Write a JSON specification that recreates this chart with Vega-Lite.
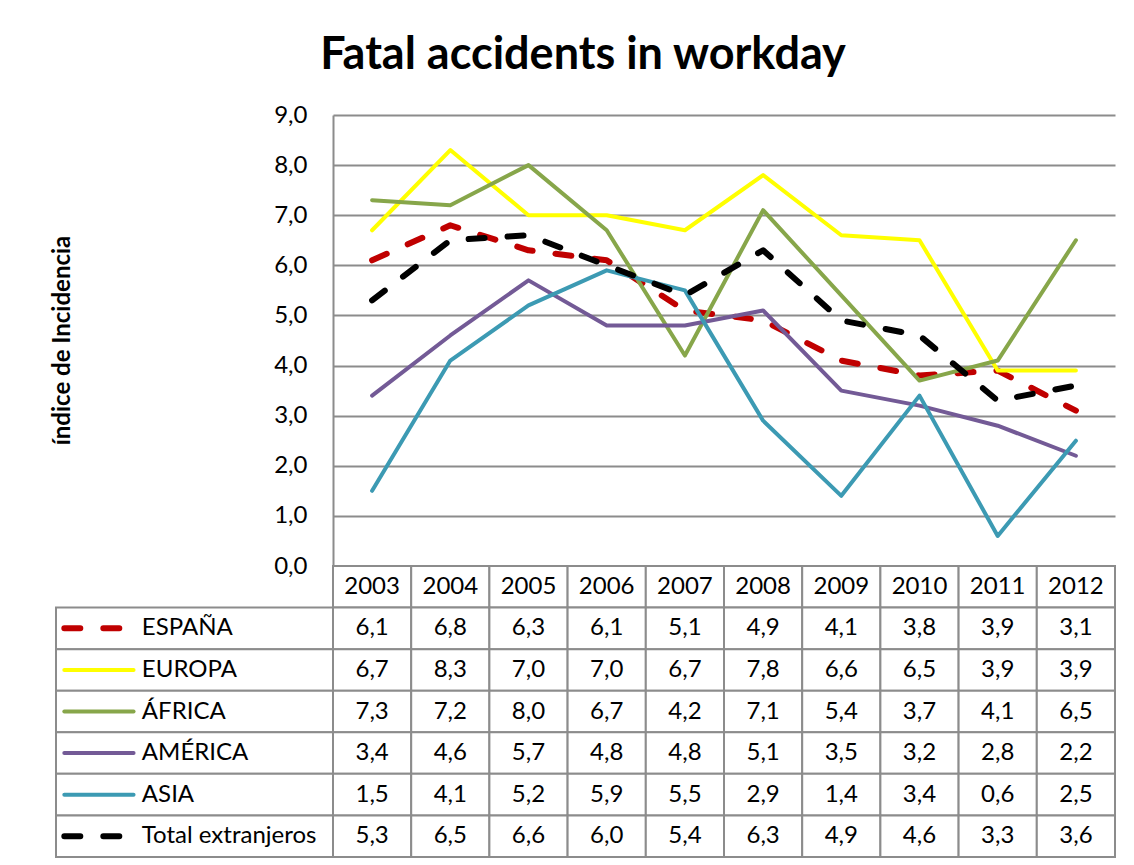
{
  "$schema": "https://vega.github.io/schema/vega-lite/v6.json",
  "padding": {"left": 50, "top": 33, "right": 5, "bottom": 5},
  "config": {
    "font": "Lato",
    "view": {"stroke": null},
    "locale": {"number": {"decimal": ",", "thousands": ".", "grouping": [3], "currency": ["", " €"]}}
  },
  "title": {"text": "Fatal accidents in workday", "fontSize": 45, "fontWeight": "bold", "color": "#000000", "anchor": "middle", "offset": 25},
  "datasets": {
    "d": [
      {"serie": "ESPAÑA", "year": 2003, "value": 6.1},
      {"serie": "ESPAÑA", "year": 2004, "value": 6.8},
      {"serie": "ESPAÑA", "year": 2005, "value": 6.3},
      {"serie": "ESPAÑA", "year": 2006, "value": 6.1},
      {"serie": "ESPAÑA", "year": 2007, "value": 5.1},
      {"serie": "ESPAÑA", "year": 2008, "value": 4.9},
      {"serie": "ESPAÑA", "year": 2009, "value": 4.1},
      {"serie": "ESPAÑA", "year": 2010, "value": 3.8},
      {"serie": "ESPAÑA", "year": 2011, "value": 3.9},
      {"serie": "ESPAÑA", "year": 2012, "value": 3.1},
      {"serie": "EUROPA", "year": 2003, "value": 6.7},
      {"serie": "EUROPA", "year": 2004, "value": 8.3},
      {"serie": "EUROPA", "year": 2005, "value": 7.0},
      {"serie": "EUROPA", "year": 2006, "value": 7.0},
      {"serie": "EUROPA", "year": 2007, "value": 6.7},
      {"serie": "EUROPA", "year": 2008, "value": 7.8},
      {"serie": "EUROPA", "year": 2009, "value": 6.6},
      {"serie": "EUROPA", "year": 2010, "value": 6.5},
      {"serie": "EUROPA", "year": 2011, "value": 3.9},
      {"serie": "EUROPA", "year": 2012, "value": 3.9},
      {"serie": "ÁFRICA", "year": 2003, "value": 7.3},
      {"serie": "ÁFRICA", "year": 2004, "value": 7.2},
      {"serie": "ÁFRICA", "year": 2005, "value": 8.0},
      {"serie": "ÁFRICA", "year": 2006, "value": 6.7},
      {"serie": "ÁFRICA", "year": 2007, "value": 4.2},
      {"serie": "ÁFRICA", "year": 2008, "value": 7.1},
      {"serie": "ÁFRICA", "year": 2009, "value": 5.4},
      {"serie": "ÁFRICA", "year": 2010, "value": 3.7},
      {"serie": "ÁFRICA", "year": 2011, "value": 4.1},
      {"serie": "ÁFRICA", "year": 2012, "value": 6.5},
      {"serie": "AMÉRICA", "year": 2003, "value": 3.4},
      {"serie": "AMÉRICA", "year": 2004, "value": 4.6},
      {"serie": "AMÉRICA", "year": 2005, "value": 5.7},
      {"serie": "AMÉRICA", "year": 2006, "value": 4.8},
      {"serie": "AMÉRICA", "year": 2007, "value": 4.8},
      {"serie": "AMÉRICA", "year": 2008, "value": 5.1},
      {"serie": "AMÉRICA", "year": 2009, "value": 3.5},
      {"serie": "AMÉRICA", "year": 2010, "value": 3.2},
      {"serie": "AMÉRICA", "year": 2011, "value": 2.8},
      {"serie": "AMÉRICA", "year": 2012, "value": 2.2},
      {"serie": "ASIA", "year": 2003, "value": 1.5},
      {"serie": "ASIA", "year": 2004, "value": 4.1},
      {"serie": "ASIA", "year": 2005, "value": 5.2},
      {"serie": "ASIA", "year": 2006, "value": 5.9},
      {"serie": "ASIA", "year": 2007, "value": 5.5},
      {"serie": "ASIA", "year": 2008, "value": 2.9},
      {"serie": "ASIA", "year": 2009, "value": 1.4},
      {"serie": "ASIA", "year": 2010, "value": 3.4},
      {"serie": "ASIA", "year": 2011, "value": 0.6},
      {"serie": "ASIA", "year": 2012, "value": 2.5},
      {"serie": "Total extranjeros", "year": 2003, "value": 5.3},
      {"serie": "Total extranjeros", "year": 2004, "value": 6.5},
      {"serie": "Total extranjeros", "year": 2005, "value": 6.6},
      {"serie": "Total extranjeros", "year": 2006, "value": 6.0},
      {"serie": "Total extranjeros", "year": 2007, "value": 5.4},
      {"serie": "Total extranjeros", "year": 2008, "value": 6.3},
      {"serie": "Total extranjeros", "year": 2009, "value": 4.9},
      {"serie": "Total extranjeros", "year": 2010, "value": 4.6},
      {"serie": "Total extranjeros", "year": 2011, "value": 3.3},
      {"serie": "Total extranjeros", "year": 2012, "value": 3.6}
    ]
  },
  "columns": 2,
  "spacing": 0,
  "bounds": "flush",
  "resolve": {"scale": {"x": "independent", "y": "independent", "color": "shared"}},
  "concat": [
    {
      "width": 277,
      "height": 451,
      "data": {"values": []},
      "mark": "text"
    },
    {
      "width": 782,
      "height": 451,
      "data": {"name": "d"},
      "encoding": {
        "x": {"field": "year", "type": "ordinal", "scale": {"type": "point", "padding": 0.5}, "axis": null},
        "y": {
          "field": "value", "type": "quantitative",
          "scale": {"domain": [0, 9], "nice": false, "zero": true},
          "axis": {
            "values": [0, 1, 2, 3, 4, 5, 6, 7, 8, 9],
            "format": ".1f",
            "title": "índice de Incidencia",
            "titleFontSize": 24, "titleFontWeight": "bold", "titleColor": "#000000",
            "titleAngle": 270, "titleBaseline": "middle", "titleAlign": "center",
            "titleX": -271, "titleY": 225,
            "labelFontSize": 24, "labelColor": "#000000", "labelPadding": 26,
            "ticks": false,
            "domainColor": "#8C8C8C", "domainWidth": 2,
            "grid": true, "gridColor": "#8C8C8C", "gridWidth": 2
          }
        },
        "color": {
          "field": "serie", "type": "nominal",
          "scale": {"domain": ["ESPAÑA", "EUROPA", "ÁFRICA", "AMÉRICA", "ASIA", "Total extranjeros"],
                    "range": ["#C00000", "#FFFF00", "#87A64A", "#735A96", "#3C9AB3", "#000000"]},
          "legend": null
        }
      },
      "layer": [
        {
          "transform": [{"filter": "datum.serie === 'ESPAÑA'"}],
          "mark": {"type": "line", "strokeCap": "round", "strokeJoin": "round", "strokeWidth": 6, "strokeDash": [16, 23]}
        },
        {
          "transform": [{"filter": "datum.serie !== 'ESPAÑA' && datum.serie !== 'Total extranjeros'"}],
          "mark": {"type": "line", "strokeCap": "round", "strokeJoin": "round", "strokeWidth": 4}
        },
        {
          "transform": [{"filter": "datum.serie === 'Total extranjeros'"}],
          "mark": {"type": "line", "strokeCap": "round", "strokeJoin": "round", "strokeWidth": 6, "strokeDash": [16, 23]}
        }
      ]
    },
    {
      "width": 277,
      "height": 291,
      "data": {"name": "d"},
      "transform": [{"aggregate": [], "groupby": ["serie"]}],
      "encoding": {
        "y": {"field": "serie", "type": "nominal",
              "scale": {"domain": ["hdr", "ESPAÑA", "EUROPA", "ÁFRICA", "AMÉRICA", "ASIA", "Total extranjeros"], "paddingInner": 0, "paddingOuter": 0},
              "axis": null}
      },
      "layer": [
        {"mark": {"type": "rect", "fill": "#ffffff", "stroke": "#8C8C8C", "strokeWidth": 2}},
        {
          "transform": [{"filter": "datum.serie === 'ESPAÑA' || datum.serie === 'Total extranjeros'"}],
          "mark": {"type": "rule", "strokeCap": "round", "strokeWidth": 6, "strokeDash": [16, 23]},
          "encoding": {
            "x": {"datum": 3, "type": "quantitative", "scale": {"domain": [0, 100]}, "axis": null},
            "x2": {"datum": 28},
            "color": {"field": "serie", "type": "nominal", "legend": null}
          }
        },
        {
          "transform": [{"filter": "datum.serie !== 'ESPAÑA' && datum.serie !== 'Total extranjeros'"}],
          "mark": {"type": "rule", "strokeCap": "round", "strokeWidth": 4},
          "encoding": {
            "x": {"datum": 3, "type": "quantitative"},
            "x2": {"datum": 28},
            "color": {"field": "serie", "type": "nominal", "legend": null}
          }
        },
        {
          "mark": {"type": "text", "align": "left", "baseline": "middle", "fontSize": 24, "color": "#000000"},
          "encoding": {
            "x": {"datum": 31, "type": "quantitative"},
            "text": {"field": "serie"}
          }
        }
      ]
    },
    {
      "width": 782,
      "height": 291,
      "data": {"name": "d"},
      "encoding": {
        "x": {"field": "year", "type": "ordinal", "scale": {"type": "band", "paddingInner": 0, "paddingOuter": 0}, "axis": null}
      },
      "layer": [
        {
          "transform": [{"aggregate": [], "groupby": ["year"]}],
          "mark": {"type": "rect", "fill": "#ffffff", "stroke": "#8C8C8C", "strokeWidth": 2},
          "encoding": {
            "y": {"datum": "hdr", "type": "nominal",
                  "scale": {"domain": ["hdr", "ESPAÑA", "EUROPA", "ÁFRICA", "AMÉRICA", "ASIA", "Total extranjeros"], "paddingInner": 0, "paddingOuter": 0},
                  "axis": null}
          }
        },
        {
          "transform": [{"aggregate": [], "groupby": ["year"]}],
          "mark": {"type": "text", "fontSize": 24, "color": "#000000", "baseline": "middle"},
          "encoding": {
            "y": {"datum": "hdr", "type": "nominal"},
            "text": {"field": "year", "type": "ordinal"}
          }
        },
        {
          "mark": {"type": "rect", "fill": "#ffffff", "stroke": "#8C8C8C", "strokeWidth": 2},
          "encoding": {"y": {"field": "serie", "type": "nominal"}}
        },
        {
          "mark": {"type": "text", "fontSize": 24, "color": "#000000", "baseline": "middle"},
          "encoding": {
            "y": {"field": "serie", "type": "nominal"},
            "text": {"field": "value", "type": "quantitative", "format": ".1f"}
          }
        }
      ]
    }
  ]
}
